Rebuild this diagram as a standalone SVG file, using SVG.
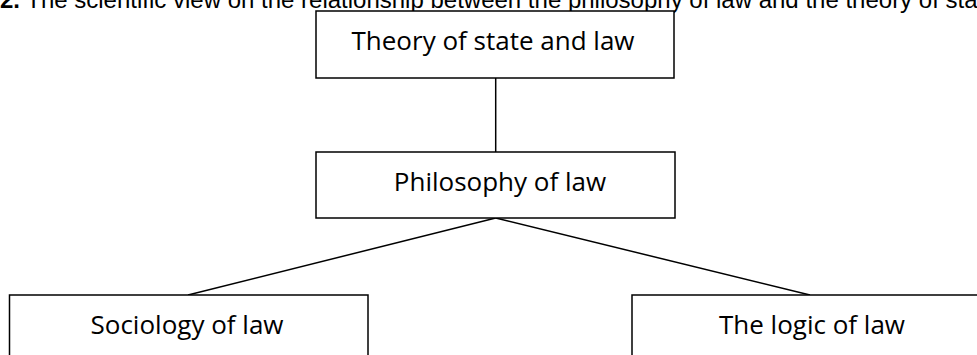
<svg xmlns="http://www.w3.org/2000/svg" width="977" height="355" viewBox="0 0 977 355">
<style>
  .box { fill: #ffffff; stroke: #000000; stroke-width: 1.5; }
  .lbl { font-family: "Open Sans", "Noto Sans", sans-serif; font-size: 26px; fill: #000000; text-anchor: middle; }
  .conn { stroke: #000000; stroke-width: 1.5; fill: none; }
  .title { font-family: "Liberation Sans", Arial, sans-serif; font-size: 24px; fill: #000000; }
</style>
<rect width="977" height="355" fill="#ffffff"/>
<text class="title" x="0" y="8"><tspan font-weight="bold">2.</tspan> The scientific view on the relationship between the philosophy of law and the theory of sta</text>
<g id="connectors">
  <line class="conn" x1="495.7" y1="78" x2="495.7" y2="152"/>
  <line class="conn" x1="495.7" y1="218" x2="188" y2="295"/>
  <line class="conn" x1="495.7" y1="218" x2="810" y2="295"/>
</g>
<g id="node-theory">
  <rect class="box" x="316" y="11" width="358" height="67"/>
  <text class="lbl" x="493" y="50">Theory of state and law</text>
</g>
<g id="node-philosophy">
  <rect class="box" x="316" y="152" width="359" height="66"/>
  <text class="lbl" x="500" y="191">Philosophy of law</text>
</g>
<g id="node-sociology">
  <rect class="box" x="9.5" y="295" width="358.5" height="80"/>
  <text class="lbl" x="187" y="334">Sociology of law</text>
</g>
<g id="node-logic">
  <rect class="box" x="632" y="295" width="358" height="80"/>
  <text class="lbl" x="812" y="334">The logic of law</text>
</g>
</svg>
